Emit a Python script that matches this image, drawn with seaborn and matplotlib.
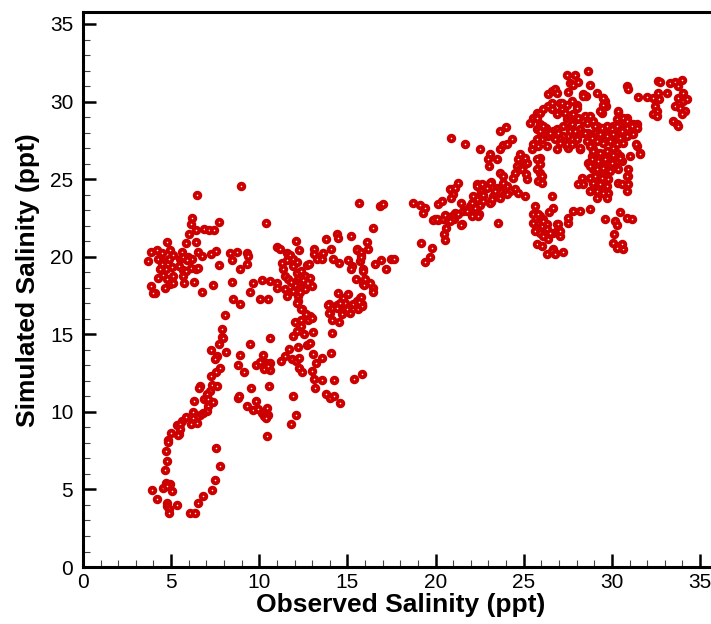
import pandas as pd
import seaborn as sns
import matplotlib.pyplot as plt
from matplotlib.ticker import MultipleLocator

# (observed, simulated) salinity pairs in ppt, grouped by cluster
tail = [(8.07, 16.27), (7.87, 15.37), (7.9, 14.83), (7.96, 14.73), (7.7, 14.40), (8.13, 13.87),
        (7.24, 13.99), (7.62, 13.57), (7.49, 13.39), (7.77, 12.84), (7.54, 12.58), (7.28, 12.28),
        (7.32, 11.74), (7.62, 11.64), (6.64, 11.64), (6.6, 11.51), (7.2, 11.35), (7.02, 11.18),
        (6.86, 10.82), (7.1, 10.82), (7.36, 10.64), (6.31, 10.67), (7.1, 10.35), (7.02, 10.06),
        (6.82, 9.92), (6.64, 9.79), (6.26, 9.96), (6.45, 9.7), (6.22, 9.59), (5.84, 9.7),
        (5.6, 9.42), (5.31, 9.16), (5.5, 9.21), (6.11, 9.19), (6.45, 9.27), (5.5, 8.89),
        (5.46, 8.56), (5.37, 8.48), (4.97, 8.63), (4.8, 8.18), (4.84, 8.03), (4.71, 7.45),
        (4.78, 6.81), (4.65, 6.23), (4.71, 5.39), (4.93, 5.34), (4.56, 5.09), (5.07, 4.89),
        (4.75, 5.24), (3.91, 4.98), (4.22, 4.38), (4.75, 4.12), (4.78, 3.95), (4.9, 3.73),
        (4.9, 3.46), (5.31, 3.99), (6.07, 3.46), (6.37, 3.5), (6.54, 4.12), (6.79, 4.55),
        (7.3, 4.96), (7.49, 5.6), (7.75, 6.52), (7.53, 7.64)]

left_cluster = [(6.48, 24.0), (8.94, 24.58), (6.16, 22.47), (6.1, 22.09), (6.03, 21.44), (6.43, 21.7),
                (6.86, 21.81), (7.15, 21.7), (7.45, 21.75), (7.73, 22.26), (4.76, 20.93), (5.86, 20.86),
                (6.43, 20.95), (3.86, 20.3), (4.18, 20.41), (4.48, 20.26), (4.95, 20.41), (5.12, 20.09),
                (5.6, 20.3), (5.97, 20.0), (6.2, 19.87), (6.51, 20.3), (6.77, 20.05), (7.28, 20.15),
                (7.56, 20.39), (3.69, 19.72), (4.24, 19.87), (4.55, 19.72), (4.9, 19.83), (5.5, 19.87),
                (5.69, 20.0), (5.88, 19.79), (4.46, 19.51), (4.71, 19.23), (4.37, 19.19), (5.03, 19.34),
                (5.46, 19.4), (5.69, 19.12), (6.11, 19.3), (6.39, 19.19), (6.54, 19.3), (7.69, 19.47),
                (8.34, 20.26), (8.72, 20.33), (8.47, 19.79), (9.32, 20.26), (9.36, 20.05), (9.28, 19.51),
                (8.91, 19.19), (4.27, 18.65), (4.55, 18.8), (4.75, 18.55), (5.12, 18.76), (4.93, 18.22),
                (3.84, 18.11), (4.08, 17.69), (3.99, 17.64), (4.65, 18.01), (5.12, 18.33), (5.69, 18.76),
                (5.84, 19.08), (5.73, 18.29), (6.31, 18.37), (6.77, 17.71), (7.39, 18.16), (8.47, 18.37),
                (8.53, 17.28), (8.91, 16.98)]

middle = [(10.38, 22.19), (15.64, 23.46), (10.99, 20.63), (11.18, 20.52), (11.56, 20.26), (11.75, 20.09),
          (12.08, 21.0), (12.27, 20.43), (13.1, 20.48), (13.1, 20.15), (13.63, 20.26), (14.09, 20.48),
          (14.39, 21.48), (14.45, 21.18), (15.19, 21.36), (13.77, 21.16), (15.52, 20.48), (15.75, 20.09),
          (16.09, 20.95), (16.15, 20.52), (11.27, 19.62), (11.56, 19.79), (11.93, 19.87), (12.12, 19.66),
          (12.69, 19.45), (12.84, 19.51), (13.25, 19.83), (13.54, 19.87), (14.2, 19.83), (14.54, 19.57),
          (15.05, 19.79), (15.24, 19.4), (15.71, 19.72), (15.9, 19.19), (9.66, 18.33), (10.14, 18.5),
          (10.61, 18.44), (10.99, 18.33), (11.36, 19.19), (11.46, 18.76), (11.65, 18.55), (11.93, 19.4),
          (12.12, 18.97), (12.21, 18.55), (12.35, 19.08), (12.59, 18.76), (12.88, 18.65), (10.99, 18.0),
          (11.46, 17.9), (11.93, 17.79), (12.5, 18.11), (12.97, 18.11), (9.47, 17.73), (10.04, 17.3),
          (10.51, 17.3), (11.55, 17.47), (12.21, 17.47), (12.2, 18.3), (12.4, 18.0), (12.0, 18.2),
          (12.6, 17.9), (12.3, 17.7), (11.8, 18.4), (12.5, 18.5), (12.21, 17.15), (12.4, 16.61),
          (12.88, 16.18), (13.97, 16.93), (14.01, 16.4), (14.39, 16.87), (14.48, 17.69), (14.77, 17.37),
          (15.05, 17.58), (15.71, 17.37), (15.81, 16.93), (15.62, 16.61), (15.9, 18.22), (16.28, 18.33),
          (16.0, 18.55), (14.58, 16.83), (14.86, 17.04), (14.96, 16.61), (15.14, 16.4), (15.33, 16.93),
          (15.52, 17.15), (12.04, 15.79), (12.37, 15.92), (12.78, 15.92), (12.97, 16.08), (12.37, 15.54),
          (12.65, 16.29), (12.38, 16.61), (12.12, 17.04), (13.91, 16.89), (13.97, 16.36), (14.39, 16.72),
          (14.58, 17.0), (14.67, 16.29), (14.95, 16.61), (15.71, 17.04), (15.81, 16.83), (14.11, 15.92),
          (14.52, 15.82), (9.49, 14.4), (10.61, 14.75), (8.92, 13.65), (8.81, 13.01), (9.13, 12.6),
          (10.19, 13.65), (9.81, 13.01), (10.04, 13.22), (10.38, 13.14), (10.61, 13.18), (10.27, 12.79),
          (10.61, 12.67), (10.51, 12.96), (9.53, 11.57), (10.55, 11.64), (8.77, 10.9), (8.87, 11.03),
          (9.81, 10.71), (9.3, 10.35), (9.66, 10.11), (9.94, 10.17), (10.14, 9.92), (10.42, 10.22),
          (10.27, 9.74), (10.51, 9.79), (10.38, 9.59), (10.45, 8.45), (11.23, 13.26), (11.44, 13.6),
          (11.7, 14.04), (11.86, 13.39), (12.08, 13.28), (12.27, 13.48), (12.21, 14.15), (11.93, 14.9),
          (12.12, 15.2), (12.54, 15.0), (12.69, 14.31), (12.88, 14.47), (13.03, 15.15), (12.23, 12.81),
          (12.44, 12.58), (13.01, 12.64), (13.1, 12.11), (13.14, 11.51), (13.57, 12.04), (14.22, 12.06),
          (13.05, 13.72), (13.22, 13.14), (13.57, 13.5), (14.09, 13.78), (11.91, 11.03), (12.1, 9.83),
          (11.78, 9.19), (13.78, 11.14), (14.01, 10.88), (14.25, 11.03), (14.6, 10.58), (15.37, 12.11),
          (15.81, 12.41), (14.11, 15.11), (16.85, 23.27), (17.04, 23.4), (16.47, 21.83), (15.56, 20.43),
          (15.77, 20.3), (15.75, 20.0), (16.88, 19.81), (16.56, 19.51), (17.47, 19.87), (17.66, 19.87),
          (17.19, 19.19), (15.86, 19.1), (15.2, 19.23), (15.48, 18.55), (15.96, 18.16), (16.43, 18.01),
          (16.47, 17.73), (15.75, 17.43), (15.81, 16.83), (15.67, 17.08)]

upper_band = [(18.72, 23.44), (19.12, 23.31), (19.4, 23.12), (19.3, 22.84), (19.17, 20.88), (19.81, 20.59),
              (19.68, 19.96), (19.4, 19.66), (20.15, 23.4), (20.34, 23.61), (19.97, 22.41), (20.15, 22.36),
              (20.53, 22.41), (20.48, 21.44), (20.59, 21.87), (20.55, 21.08), (21.48, 22.09), (20.91, 22.62),
              (21.1, 22.84), (21.04, 22.45), (21.19, 22.73), (21.42, 23.48), (21.57, 22.94), (21.86, 23.05),
              (22.14, 23.09), (22.33, 23.31), (22.48, 22.73), (22.9, 24.45), (22.71, 23.91), (22.56, 24.6),
              (23.12, 24.81), (22.33, 24.66), (20.91, 24.23), (21.0, 24.02), (21.29, 24.77), (22.6, 24.23),
              (23.54, 22.2), (23.17, 23.52), (23.45, 23.91), (23.54, 24.38), (19.87, 22.36), (20.06, 22.45),
              (20.44, 22.41), (20.53, 22.66), (20.82, 24.34), (21.1, 24.45), (20.86, 23.8), (21.95, 23.27),
              (22.05, 23.44), (22.23, 23.16), (22.52, 23.31), (22.42, 22.62), (22.05, 22.62), (21.76, 22.94),
              (21.29, 22.73), (20.97, 22.45), (20.82, 22.3), (21.44, 22.04)]

upper_cluster = [(20.86, 27.67), (21.67, 27.24), (22.52, 26.96), (23.09, 26.6), (22.99, 26.28), (23.05, 25.84),
                 (23.47, 26.28), (23.65, 26.92), (23.8, 27.18), (23.65, 28.1), (23.99, 28.35), (24.07, 27.24),
                 (24.32, 27.56), (23.65, 25.42), (23.84, 25.2), (24.03, 24.56), (24.5, 25.42), (24.41, 25.1),
                 (24.6, 25.84), (24.79, 25.63), (24.5, 24.34), (24.22, 24.23), (24.03, 24.02), (23.65, 24.23),
                 (23.27, 23.91), (23.65, 23.8), (23.47, 24.45), (23.37, 24.23), (23.84, 24.77), (22.33, 24.56),
                 (22.61, 24.66), (22.56, 24.23), (22.52, 23.95), (22.71, 23.95), (23.09, 24.77), (22.37, 23.74),
                 (22.67, 23.59), (23.09, 23.48), (23.18, 23.7), (22.14, 23.91), (24.69, 26.28), (24.79, 26.6),
                 (25.07, 26.38), (25.16, 26.06), (24.98, 25.84), (24.88, 25.63), (25.16, 24.98), (25.13, 25.31),
                 (24.69, 24.13), (25.07, 23.91), (25.45, 26.92), (25.64, 27.24), (25.83, 27.56), (26.01, 27.56),
                 (25.73, 28.2), (25.92, 28.53), (26.26, 28.31), (26.3, 28.1), (26.49, 27.88), (26.68, 28.1),
                 (25.36, 28.63), (25.54, 28.96), (25.73, 29.28), (25.92, 29.28), (26.11, 29.49), (26.39, 29.71),
                 (26.58, 29.92), (26.86, 29.28), (27.15, 29.49), (27.34, 29.28), (27.43, 28.85), (27.62, 29.06),
                 (27.81, 29.17), (28.0, 28.85), (28.28, 28.85), (28.47, 29.06), (28.57, 28.74), (28.76, 28.85),
                 (26.39, 30.46), (26.58, 30.67), (26.77, 30.78), (26.86, 30.57), (27.05, 29.92), (27.52, 30.6),
                 (27.62, 31.21), (27.81, 31.1), (28.09, 31.25), (28.37, 30.46), (28.51, 30.39), (28.66, 31.96),
                 (28.76, 31.1), (29.14, 30.57), (29.51, 30.24), (29.61, 30.02), (29.66, 29.71), (29.42, 29.28),
                 (27.43, 31.74), (27.9, 31.74), (26.86, 28.2), (27.24, 27.77), (27.34, 27.45), (27.62, 28.1),
                 (28.0, 27.88), (27.81, 27.34), (27.43, 27.13), (26.86, 26.92), (27.05, 27.56), (28.19, 26.92),
                 (27.52, 27.02), (26.39, 27.77), (26.3, 27.13), (25.92, 26.38), (25.73, 26.28), (25.92, 25.95),
                 (25.73, 25.63), (25.92, 25.42), (26.01, 25.2), (25.83, 24.88), (26.01, 24.73), (26.58, 23.91),
                 (25.73, 28.96), (26.58, 29.49), (26.86, 29.17), (27.15, 29.92), (27.43, 29.81), (27.71, 30.03),
                 (28.0, 29.81), (27.52, 28.63), (27.24, 28.42), (26.96, 27.99), (26.77, 27.56), (26.49, 27.99),
                 (26.11, 28.42), (25.92, 28.1), (25.73, 27.56), (25.54, 27.24), (25.83, 27.13), (27.05, 27.34),
                 (27.43, 27.24), (27.71, 27.56), (28.0, 27.77), (28.19, 28.2), (28.38, 28.74), (28.57, 28.63),
                 (28.76, 29.06), (28.95, 28.74)]

lower_pocket = [(25.64, 23.27), (25.54, 22.73), (25.92, 22.62), (25.73, 22.2), (26.11, 22.41), (26.01, 21.98),
                (26.3, 22.09), (25.64, 21.66), (25.92, 21.55), (26.3, 21.77), (26.11, 21.33), (26.39, 21.12),
                (25.73, 20.8), (26.68, 21.55), (26.86, 22.09), (26.96, 21.77), (27.05, 21.33), (26.68, 23.16),
                (26.01, 20.69), (26.3, 20.16), (26.68, 20.48), (26.77, 20.26), (27.24, 20.31), (27.52, 22.2),
                (27.81, 22.95), (28.19, 22.95), (28.76, 23.06), (26.45, 22.88), (25.83, 22.73), (26.11, 22.3),
                (26.49, 21.55), (25.54, 22.2), (26.58, 20.37), (26.77, 20.16), (26.96, 22.09), (27.05, 21.66),
                (27.52, 22.52)]

right_cluster = [(30.37, 29.32), (30.27, 28.85), (30.46, 28.63), (30.84, 28.96), (30.93, 28.53), (31.31, 28.31),
                 (31.41, 28.53), (30.65, 28.2), (30.08, 28.42), (29.9, 28.2), (29.71, 27.99), (29.52, 27.77),
                 (29.33, 28.31), (29.14, 28.42), (29.04, 27.99), (28.85, 27.77), (28.66, 27.99), (28.57, 27.45),
                 (28.95, 27.34), (29.23, 27.56), (29.61, 27.45), (29.99, 27.67), (30.27, 27.88), (30.56, 27.77),
                 (30.84, 27.99), (31.13, 27.88), (31.41, 27.13), (31.59, 26.7), (30.37, 27.34), (30.08, 27.02),
                 (29.9, 26.7), (30.27, 26.7), (30.46, 26.49), (30.08, 26.28), (29.71, 26.17), (29.42, 26.38),
                 (29.14, 26.7), (28.95, 26.92), (28.76, 27.13), (28.85, 26.49), (29.14, 26.17), (29.33, 25.84),
                 (29.61, 25.63), (29.9, 25.74), (30.27, 26.17), (30.56, 26.17), (30.37, 25.63), (29.52, 25.2),
                 (29.23, 25.42), (28.95, 25.63), (28.66, 26.06), (28.28, 25.1), (28.76, 25.1), (28.95, 24.77),
                 (29.14, 24.98), (29.33, 24.77), (29.61, 24.88), (29.8, 24.98), (29.23, 24.56), (28.95, 24.34),
                 (29.33, 24.23), (29.61, 24.34), (29.8, 24.13), (29.71, 23.8), (29.14, 23.8), (28.76, 24.23),
                 (28.38, 24.66), (28.09, 24.66), (30.37, 24.77), (30.56, 24.66), (30.93, 25.2), (30.93, 24.66),
                 (30.84, 24.23), (28.19, 26.92), (30.46, 22.88), (29.61, 22.41), (30.18, 22.3), (30.27, 22.02),
                 (30.84, 22.52), (31.13, 22.41), (30.12, 21.49), (30.08, 20.91), (30.46, 20.69), (30.65, 20.48),
                 (30.27, 20.59), (30.56, 20.8), (30.37, 29.38), (31.22, 28.53), (31.41, 28.31), (30.65, 28.96),
                 (30.84, 28.74), (30.46, 28.42), (31.37, 27.24), (31.59, 26.64), (31.03, 26.49), (30.93, 25.63),
                 (30.84, 25.2), (30.84, 30.99), (30.93, 30.82)]

# the solid core of the right-hand blob
right_core = [(28.0, 29.6), (27.81, 29.17), (28.09, 28.96), (27.71, 28.53), (27.9, 28.1), (28.28, 27.99),
              (28.0, 27.56), (27.71, 27.24), (28.19, 27.02), (29.04, 28.42), (29.42, 28.31), (29.71, 28.42),
              (29.99, 28.2), (30.27, 28.42), (30.56, 28.1), (30.84, 28.31), (31.13, 28.42), (31.41, 28.31),
              (29.33, 27.88), (29.71, 27.77), (30.08, 27.88), (30.46, 27.67), (30.84, 27.77), (31.22, 27.88),
              (29.14, 27.45), (29.52, 27.34), (29.9, 27.45), (30.27, 27.24), (30.65, 27.34), (28.85, 27.67),
              (28.47, 27.99), (28.95, 26.79), (29.33, 26.68), (29.71, 26.79), (30.08, 26.57), (30.46, 26.35),
              (28.85, 26.27), (29.23, 26.16), (29.61, 26.27), (29.99, 26.06), (28.76, 25.84), (29.14, 25.63),
              (29.52, 25.74), (29.9, 25.52), (29.04, 25.2), (29.42, 25.1), (29.8, 24.98), (28.95, 24.77),
              (29.33, 24.66), (29.71, 24.56), (29.14, 24.23), (29.52, 24.12), (28.76, 24.23), (28.38, 30.35),
              (29.52, 30.24), (29.52, 29.81), (29.33, 29.38)]

top_right = [(31.5, 30.29), (31.98, 30.31), (32.35, 30.24), (32.64, 30.57), (32.69, 30.14), (32.45, 29.71),
             (32.54, 29.38), (32.35, 29.17), (32.54, 29.1), (33.11, 30.57), (33.3, 31.21), (33.58, 31.25),
             (33.96, 31.42), (33.77, 30.99), (34.05, 30.57), (33.77, 30.24), (34.05, 30.02), (34.24, 30.14),
             (33.58, 29.71), (33.87, 29.6), (34.15, 29.38), (33.96, 29.17), (33.48, 28.74), (33.68, 28.53),
             (33.77, 28.42), (32.64, 31.31), (32.73, 31.25)]

groups = [tail, left_cluster, middle, upper_band, upper_cluster, lower_pocket,
          right_cluster, right_core, top_right]
observed = [p[0] for g in groups for p in g]
simulated = [p[1] for g in groups for p in g]
df = pd.DataFrame({'Observed': observed, 'Simulated': simulated})

sns.set_style('ticks')
plt.rcParams['font.family'] = ['Liberation Sans', 'DejaVu Sans']

fig = plt.figure(figsize=(7.11, 6.24), dpi=100)
ax = fig.add_axes([0.1167, 0.0913, 0.8927, 0.8894])

# red rings with a tiny white centre
sns.scatterplot(data=df, x='Observed', y='Simulated', ax=ax, s=16, color='white',
                edgecolor='#cc0000', linewidth=2.8, legend=False)

ax.set_xlim(0, 36)
ax.set_ylim(0, 35.77)
ax.xaxis.set_major_locator(MultipleLocator(5))
ax.yaxis.set_major_locator(MultipleLocator(5))
ax.xaxis.set_minor_locator(MultipleLocator(1))
ax.yaxis.set_minor_locator(MultipleLocator(1))

for side in ['left', 'bottom', 'top']:
    ax.spines[side].set_linewidth(2.2)
    ax.spines[side].set_color('black')
ax.spines['right'].set_visible(False)

ax.tick_params(which='major', direction='in', length=9.4, width=1.8, labelsize=15,
               pad=7, color='black', labelcolor='black')
ax.tick_params(which='minor', direction='in', length=5, width=0.8, color='#444444')
ax.tick_params(axis='x', which='major', pad=4)

ax.set_xlabel('Observed Salinity (ppt)', fontsize=19, fontweight='bold', labelpad=1, color='black')
ax.set_ylabel('Simulated Salinity (ppt)', fontsize=19, fontweight='bold', color='black')
ax.yaxis.set_label_coords(-0.067, 0.517)

fig.savefig('out.png', dpi=100)
